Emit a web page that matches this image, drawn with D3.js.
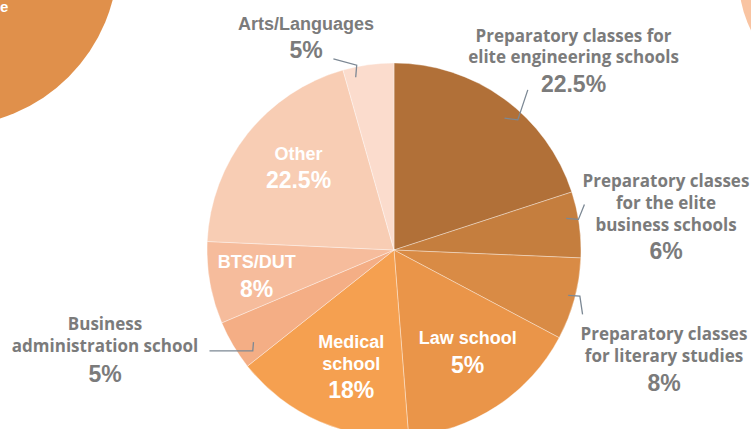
<!DOCTYPE html>
<html>
<head>
<meta charset="utf-8">
<script src="https://cdn.jsdelivr.net/npm/d3@7/dist/d3.min.js"></script>
<style>
  html, body { margin: 0; padding: 0; background: #fff; }
  svg { display: block; }
</style>
</head>
<body>
<svg id="chart" width="751" height="429"></svg>
<script>
// ---- data ----
const categories = [
  "Preparatory classes for elite engineering schools",
  "Preparatory classes for the elite business schools",
  "Preparatory classes for literary studies",
  "Law school",
  "Medical school",
  "Business administration school",
  "BTS/DUT",
  "Other",
  "Arts/Languages"
];
// slice shares as drawn
const shares = [20, 5.7, 7.1, 16, 15.6, 4.3, 7.1, 19.9, 4.4];
// percentages printed on the chart
const percentLabels = ["22.5%", "6%", "8%", "5%", "18%", "5%", "8%", "22.5%", "5%"];
// label lines as printed
const labelLines = [
  ["Preparatory classes for", "elite engineering schools"],
  ["Preparatory classes", "for the elite", "business schools"],
  ["Preparatory classes", "for literary studies"],
  ["Law school"],
  ["Medical", "school"],
  ["Business", "administration school"],
  ["BTS/DUT"],
  ["Other"],
  ["Arts/Languages"]
];
const colors = ["#b17038", "#c57e3e", "#d98b45", "#ea9549", "#f5a050", "#f4ae85", "#f6bc9c", "#f8cdb4", "#fbdccd"];

// ---- layout ----
const W = 751, H = 429;
const cx = 394, cy = 250, R = 187;
const svg = d3.select("#chart");

// decorative background circles
svg.append("circle").attr("cx", -50).attr("cy", -42).attr("r", 168).attr("fill", "#e0904b");
svg.append("text").attr("x", 0).attr("y", 12).attr("fill", "#fff")
  .attr("font-family", "Liberation Sans, Arial, sans-serif").attr("font-weight", "bold")
  .attr("font-size", 15).text("e");
svg.append("circle").attr("cx", 850).attr("cy", -20).attr("r", 111).attr("fill", "#f9c4a2");

const pie = d3.pie().sort(null).value(d => d).startAngle(0).endAngle(2 * Math.PI);
const arcs = pie(shares);
const arc = d3.arc().innerRadius(0).outerRadius(R);

const g = svg.append("g").attr("transform", `translate(${cx},${cy})`);
g.selectAll("path.slice").data(arcs).join("path")
  .attr("class", "slice")
  .attr("d", arc)
  .attr("fill", (d, i) => colors[i])
  .attr("stroke", "rgba(255,255,255,0.45)")
  .attr("stroke-width", 0.8);

// label placement (absolute, per slice)
const inside = [false, false, false, true, true, false, true, true, false];
const fontOuter = "'Open Sans', 'Noto Sans', sans-serif";
const fontArial = "'Liberation Sans', Arial, sans-serif";
const labelPos = [
  {x: 573.5, y: 41.5, dy: 21, py: 91.7, font: fontOuter},
  {x: 666, y: 186.7, dy: 22, py: 259, font: fontOuter},
  {x: 664, y: 340, dy: 21.7, py: 390.7, font: fontOuter},
  {x: 467.7, y: 344, dy: 0, py: 373.3, font: fontArial},
  {x: 351.2, y: 348.3, dy: 21.7, py: 398.3, font: fontArial},
  {x: 105, y: 330, dy: 21.7, py: 381.7, font: fontOuter},
  {x: 256.7, y: 268.3, dy: 0, py: 296.7, font: fontArial},
  {x: 298.5, y: 160, dy: 0, py: 188.3, font: fontArial},
  {x: 306, y: 30, dy: 0, py: 58.3, font: fontArial}
];

// leader lines: anchor inside slice (polar offset from slice mid-angle), elbow and tail offsets
const leaders = [
  {i: 0, da: 0.07, r: 172, elbow: [13.3, 1.7], tail: [10, -30]},
  {i: 1, da: -0.045, r: 175, elbow: [12.3, 1], tail: [6, -15]},
  {i: 2, da: -0.01, r: 180, elbow: [11.7, 0.7], tail: [2.7, 18.3]},
  {i: 5, da: -0.045, r: 168, elbow: [-0.7, 8.7], tail: [-43.3, 0]},
  {i: 8, da: -0.08, r: 177, elbow: [1, -12], tail: [-23.3, -6.4]}
];
const lg = svg.append("g");
leaders.forEach(L => {
  const a = arcs[L.i];
  const mid = (a.startAngle + a.endAngle) / 2 + L.da;
  const ax = cx + L.r * Math.sin(mid), ay = cy - L.r * Math.cos(mid);
  const ex = ax + L.elbow[0], ey = ay + L.elbow[1];
  const tx = ex + L.tail[0], ty = ey + L.tail[1];
  lg.append("path")
    .attr("d", d3.line()([[ax, ay], [ex, ey], [tx, ty]]))
    .attr("fill", "none").attr("stroke", "#7c8894").attr("stroke-width", 1.3);
});

const tg = svg.append("g");
categories.forEach((c, i) => {
  const p = labelPos[i];
  const fill = inside[i] ? "#ffffff" : "#7b7b7b";
  labelLines[i].forEach((line, k) => {
    tg.append("text")
      .attr("x", p.x).attr("y", p.y + k * p.dy)
      .attr("text-anchor", "middle")
      .attr("font-family", p.font)
      .attr("font-weight", "bold")
      .attr("font-size", p.font === fontOuter ? 17 : 18)
      .attr("fill", fill)
      .text(line);
  });
  tg.append("text")
    .attr("x", p.x).attr("y", p.py)
    .attr("text-anchor", "middle")
    .attr("font-family", fontArial)
    .attr("font-weight", "bold")
    .attr("font-size", 23)
    .attr("fill", fill)
    .text(percentLabels[i]);
});
</script>
</body>
</html>
